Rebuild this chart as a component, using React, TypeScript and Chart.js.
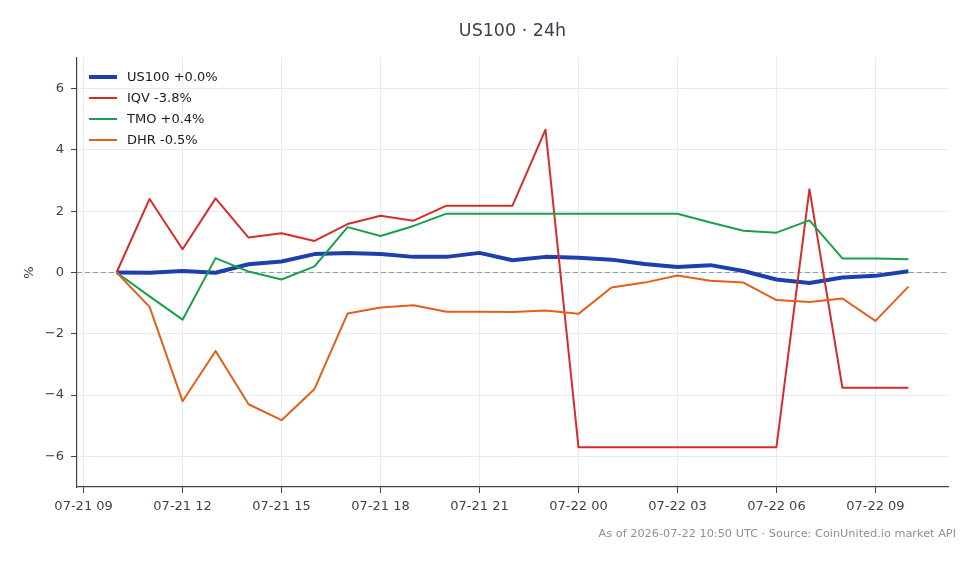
import React, { useEffect, useRef } from 'react';
import { Chart, registerables } from 'chart.js';

Chart.register(...registerables);

// Hours since 07-21 00:00 UTC, one sample per hour
const hours = [10, 11, 12, 13, 14, 15, 16, 17, 18, 19, 20, 21, 22, 23, 24, 25, 26, 27, 28, 29, 30, 31, 32, 33, 34];

// Percent change since the first sample
const us100 = [0, -0.01, 0.05, -0.01, 0.27, 0.36, 0.6, 0.64, 0.6, 0.51, 0.51, 0.64, 0.4, 0.51, 0.48, 0.42, 0.28, 0.18, 0.24, 0.05, -0.23, -0.34, -0.16, -0.11, 0.04];
const iqv = [0, 2.4, 0.76, 2.42, 1.14, 1.28, 1.03, 1.58, 1.85, 1.69, 2.18, 2.18, 2.18, 4.66, -5.7, -5.7, -5.7, -5.7, -5.7, -5.7, -5.7, 2.72, -3.76, -3.76, -3.76];
const tmo = [0, -0.78, -1.54, 0.47, 0.03, -0.23, 0.2, 1.48, 1.19, 1.52, 1.92, 1.92, 1.92, 1.92, 1.92, 1.92, 1.92, 1.92, 1.63, 1.36, 1.3, 1.7, 0.46, 0.46, 0.43];
const dhr = [0, -1.12, -4.2, -2.56, -4.3, -4.82, -3.8, -1.34, -1.14, -1.07, -1.28, -1.28, -1.29, -1.24, -1.35, -0.49, -0.33, -0.1, -0.27, -0.33, -0.9, -0.96, -0.85, -1.58, -0.46];

const seriesNames = ['US100', 'IQV', 'TMO', 'DHR'];
const seriesValues = [us100, iqv, tmo, dhr];
const seriesColors = ['#1e40af', '#d62c2c', '#18a04a', '#e2601c'];
const seriesWidths = [4, 2, 2, 2];

const xTickHours = [9, 12, 15, 18, 21, 24, 27, 30, 33];
const xTickLabels = ['07-21 09', '07-21 12', '07-21 15', '07-21 18', '07-21 21', '07-22 00', '07-22 03', '07-22 06', '07-22 09'];
const yTickValues = [-6, -4, -2, 0, 2, 4, 6];

const titleText = 'US100 · 24h';
const footText = 'As of 2026-07-22 10:50 UTC · Source: CoinUnited.io market API';

const FONT = "'DejaVu Sans', sans-serif";
const INK = '#3b4350';
const GRID = '#e8ebf0';

const legendLabel = (i: number) => {
  const vals = seriesValues[i];
  const last = vals[vals.length - 1];
  return `${seriesNames[i]} ${last >= 0 ? '+' : ''}${last.toFixed(1)}%`;
};

const decorations = {
  id: 'decorations',
  beforeDatasetsDraw(chart: any) {
    const { ctx, chartArea, scales } = chart;
    const y0 = scales.y.getPixelForValue(0);
    ctx.save();
    ctx.strokeStyle = '#8e9bb4';
    ctx.lineWidth = 1;
    ctx.setLineDash([5, 3]);
    ctx.beginPath();
    ctx.moveTo(chartArea.left, y0);
    ctx.lineTo(chartArea.right, y0);
    ctx.stroke();
    ctx.restore();
  },
  afterDraw(chart: any) {
    const { ctx, chartArea } = chart;
    ctx.save();
    // title
    ctx.fillStyle = INK;
    ctx.font = `17.5px ${FONT}`;
    ctx.textAlign = 'center';
    ctx.textBaseline = 'middle';
    ctx.fillText(titleText, (chartArea.left + chartArea.right) / 2, 31);

    // y axis label
    ctx.save();
    ctx.translate(30, (chartArea.top + chartArea.bottom) / 2);
    ctx.rotate(-Math.PI / 2);
    ctx.font = `13px ${FONT}`;
    ctx.fillText('%', 0, 0);
    ctx.restore();

    // legend
    ctx.font = `13px ${FONT}`;
    ctx.textAlign = 'left';
    ctx.textBaseline = 'middle';
    seriesNames.forEach((_, i) => {
      const yy = chartArea.top + 19 + i * 21;
      ctx.strokeStyle = seriesColors[i];
      ctx.lineWidth = seriesWidths[i];
      ctx.beginPath();
      ctx.moveTo(chartArea.left + 12, yy);
      ctx.lineTo(chartArea.left + 40, yy);
      ctx.stroke();
      ctx.fillStyle = '#1a1a1a';
      ctx.fillText(legendLabel(i), chartArea.left + 50, yy + 0.5);
    });

    // footnote
    ctx.fillStyle = '#8a9099';
    ctx.font = `11.3px ${FONT}`;
    ctx.textAlign = 'right';
    ctx.fillText(footText, 956, 534);
    ctx.restore();
  },
};

export default function App() {
  const ref = useRef<HTMLCanvasElement>(null);

  useEffect(() => {
    document.body.style.margin = '0';
    const canvas = ref.current;
    if (!canvas) return;

    const datasets = seriesNames.map((name, i) => ({
      label: name,
      data: hours.map((h, k) => ({ x: h, y: seriesValues[i][k] })),
      borderColor: seriesColors[i],
      backgroundColor: seriesColors[i],
      borderWidth: seriesWidths[i],
      pointRadius: 0,
      tension: 0,
      fill: false,
      borderJoinStyle: 'round' as const,
      order: seriesNames.length - i,
    }));

    const chart = new Chart(canvas, {
      type: 'line',
      data: { datasets },
      options: {
        responsive: false,
        animation: false,
        devicePixelRatio: 1,
        layout: { padding: { top: 58, right: 32, left: 0, bottom: 0 } },
        plugins: {
          legend: { display: false },
          title: { display: false },
          tooltip: { enabled: false },
        },
        scales: {
          x: {
            type: 'linear',
            min: 8.8,
            max: 35.2,
            afterBuildTicks: (s: any) => {
              s.ticks = xTickHours.map((v) => ({ value: v }));
            },
            afterFit: (s: any) => {
              s.height = 77;
            },
            ticks: {
              autoSkip: false,
              maxRotation: 0,
              padding: 6,
              color: INK,
              font: { family: FONT, size: 13 },
              callback: (v: any) => {
                const idx = xTickHours.indexOf(Number(v));
                return idx >= 0 ? xTickLabels[idx] : '';
              },
            },
            grid: { color: GRID, tickColor: INK, tickLength: 6, lineWidth: 1 },
            border: { color: INK, width: 1.2 },
          },
          y: {
            type: 'linear',
            min: -7,
            max: 7,
            afterBuildTicks: (s: any) => {
              s.ticks = yTickValues.map((v) => ({ value: v }));
            },
            afterFit: (s: any) => {
              s.width = 77;
            },
            ticks: {
              padding: 7,
              color: INK,
              font: { family: FONT, size: 13 },
              callback: (v: any) => (Number(v) < 0 ? '\u2212' + Math.abs(Number(v)) : String(v)),
            },
            grid: { color: GRID, tickColor: INK, tickLength: 6, lineWidth: 1 },
            border: { color: INK, width: 1.2 },
          },
        },
      },
      plugins: [decorations],
    });

    return () => chart.destroy();
  }, []);

  return (
    <div style={{ width: 980, height: 564, background: '#ffffff' }}>
      <canvas ref={ref} width={980} height={564} style={{ display: 'block' }} />
    </div>
  );
}
